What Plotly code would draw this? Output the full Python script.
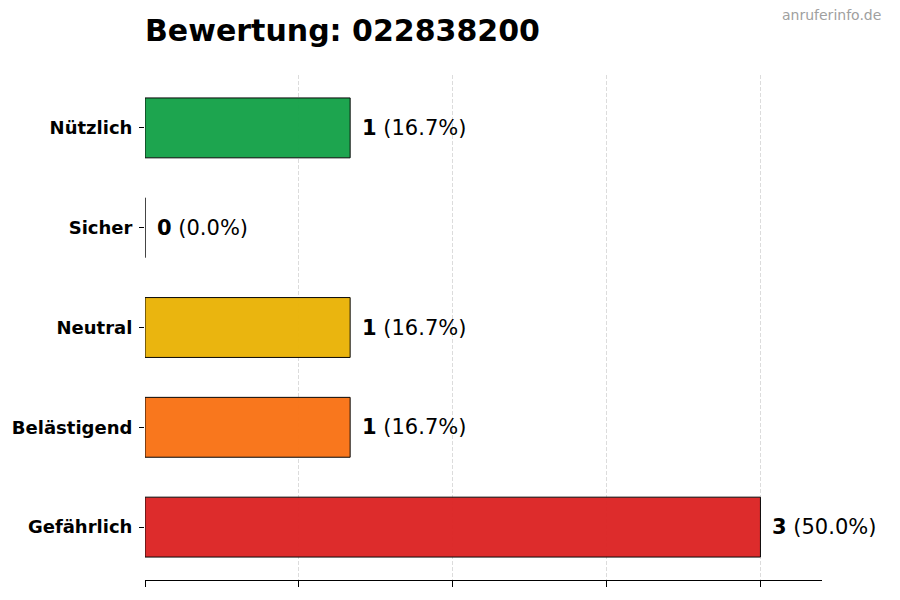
import plotly.graph_objects as go

kategorien = ["Nützlich", "Sicher", "Neutral", "Belästigend", "Gefährlich"]
anzahl = [1, 0, 1, 1, 3]
prozent = [16.7, 0.0, 16.7, 16.7, 50.0]
farben = ["#16a34a", "#22c55e", "#eab308", "#f97316", "#dc2626"]
x_ticks = [0, 0.75, 1.5, 2.25, 3]

# Seite hat 8px Rand im Browser -> Figur etwas kleiner
fig = go.Figure()

fig.add_trace(go.Bar(
    x=anzahl,
    y=kategorien,
    orientation="h",
    width=0.6,
    marker=dict(color=farben, opacity=0.97, line=dict(color="black", width=1)),
    hoverinfo="skip",
))

# Beschriftungen rechts neben den Balken
for kat, n, p in zip(kategorien, anzahl, prozent):
    fig.add_annotation(
        x=n, y=kat, text=f"<b>{n}</b> ({p:.1f}%)",
        showarrow=False, xanchor="left", xshift=10,
        font=dict(family="DejaVu Sans", size=21, color="black"),
    )

fig.add_annotation(
    xref="paper", yref="paper", x=1.09, y=1.118,
    text="anruferinfo.de", showarrow=False, xanchor="right", yanchor="middle",
    font=dict(family="DejaVu Sans", size=14, color="#a0a0a0"),
)

fig.update_layout(
    width=892, height=592,
    margin=dict(l=137, r=78, t=67, b=20),
    paper_bgcolor="white", plot_bgcolor="white",
    showlegend=False,
    title=dict(
        text="<b>Bewertung: 022838200</b>",
        x=137 / 892, xanchor="left", y=1 - 22 / 592, yanchor="middle",
        font=dict(family="DejaVu Sans", size=30, color="black"),
    ),
)

fig.update_xaxes(
    range=[0, 3.3],
    tickvals=x_ticks, ticktext=["" for _ in x_ticks],
    ticks="outside", ticklen=6, tickcolor="black",
    showline=True, linecolor="black", linewidth=1,
    showgrid=True, gridcolor="#dcdcdc", griddash="4px,2px", gridwidth=1,
    zeroline=False, automargin=False,
)
fig.update_yaxes(
    categoryorder="array", categoryarray=kategorien,
    range=[4.53, -0.53],
    ticks="outside", ticklen=5, tickcolor="black",
    showline=False, showgrid=False, zeroline=False,
    tickfont=dict(family="DejaVu Sans", size=18, color="black"),
    ticklabelstandoff=3, automargin=False,
)
fig.update_yaxes(ticktext=[f"<b>{k}</b>" for k in kategorien], tickvals=kategorien)

fig.write_html("out.html")
